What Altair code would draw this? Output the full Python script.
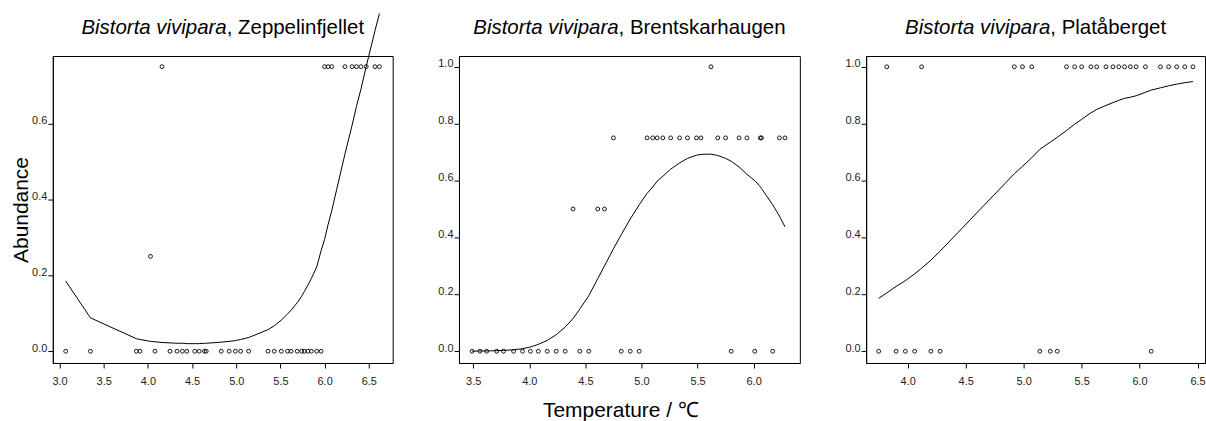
import altair as alt
import pandas as pd

# --- Zeppelinfjellet: temperature (°C), observed abundance, fitted abundance ---
zep_temp = [3.07, 3.35, 3.87, 3.91, 4.03, 4.08, 4.16, 4.25, 4.33, 4.39, 4.44, 4.53,
            4.58, 4.64, 4.66, 4.83, 4.92, 4.99, 5.05, 5.14, 5.36, 5.43, 5.51, 5.58,
            5.62, 5.69, 5.74, 5.77, 5.81, 5.85, 5.91, 5.96, 6.00, 6.04, 6.08, 6.23,
            6.31, 6.36, 6.41, 6.47, 6.57, 6.62]
zep_abund = [0, 0, 0, 0, 0.25, 0, 0.75, 0, 0, 0, 0, 0,
             0, 0, 0, 0, 0, 0, 0, 0, 0, 0, 0, 0,
             0, 0, 0, 0, 0, 0, 0, 0, 0.75, 0.75, 0.75, 0.75,
             0.75, 0.75, 0.75, 0.75, 0.75, 0.75]
zep_fit = [0.185, 0.088, 0.033, 0.031, 0.026, 0.025, 0.023, 0.022, 0.021, 0.021, 0.020, 0.020,
           0.020, 0.021, 0.021, 0.024, 0.026, 0.028, 0.031, 0.036, 0.057, 0.067, 0.082, 0.098,
           0.108, 0.128, 0.145, 0.157, 0.174, 0.192, 0.222, 0.265, 0.295, 0.335, 0.370, 0.520,
           0.595, 0.645, 0.690, 0.750, 0.845, 0.890]

# --- Brentskarhaugen ---
bre_temp = [3.49, 3.56, 3.62, 3.71, 3.77, 3.86, 3.94, 4.01, 4.08, 4.16, 4.24, 4.32,
            4.39, 4.45, 4.53, 4.61, 4.67, 4.75, 4.82, 4.90, 4.98, 5.05, 5.10, 5.14,
            5.19, 5.26, 5.34, 5.41, 5.49, 5.53, 5.62, 5.68, 5.75, 5.80, 5.87, 5.94,
            6.01, 6.06, 6.07, 6.17, 6.23, 6.28]
bre_abund = [0, 0, 0, 0, 0, 0, 0, 0, 0, 0, 0, 0,
             0.5, 0, 0, 0.5, 0.5, 0.75, 0, 0, 0, 0.75, 0.75, 0.75,
             0.75, 0.75, 0.75, 0.75, 0.75, 0.75, 1.0, 0.75, 0.75, 0, 0.75, 0.75,
             0, 0.75, 0.75, 0, 0.75, 0.75]
bre_fit = [0.000, 0.001, 0.001, 0.002, 0.003, 0.005, 0.009, 0.015, 0.024, 0.038, 0.058, 0.085,
           0.115, 0.148, 0.195, 0.255, 0.300, 0.360, 0.410, 0.465, 0.515, 0.555, 0.577, 0.598,
           0.615, 0.640, 0.662, 0.678, 0.689, 0.692, 0.693, 0.688, 0.678, 0.668, 0.648, 0.622,
           0.600, 0.578, 0.572, 0.515, 0.475, 0.437]

# --- Platåberget ---
pla_temp = [3.75, 3.82, 3.90, 3.98, 4.06, 4.12, 4.20, 4.28, 4.92, 4.99, 5.07, 5.14,
            5.23, 5.29, 5.37, 5.44, 5.50, 5.58, 5.63, 5.71, 5.77, 5.82, 5.87, 5.92,
            5.97, 6.05, 6.10, 6.18, 6.25, 6.32, 6.39, 6.46]
pla_abund = [0, 1, 0, 0, 0, 1, 0, 0, 1, 1, 1, 0,
             0, 0, 1, 1, 1, 1, 1, 1, 1, 1, 1, 1,
             1, 1, 0, 1, 1, 1, 1, 1]
pla_fit = [0.186, 0.205, 0.228, 0.248, 0.272, 0.292, 0.320, 0.352, 0.624, 0.650, 0.680, 0.710,
           0.735, 0.752, 0.776, 0.798, 0.815, 0.838, 0.850, 0.864, 0.874, 0.882, 0.889, 0.893,
           0.898, 0.910, 0.918, 0.926, 0.933, 0.939, 0.944, 0.948]

species = "Bistorta vivipara"
sites = ["Zeppelinfjellet", "Brentskarhaugen", "Platåberget"]

FONT = "Liberation Sans, Arial, Helvetica, sans-serif"
TITLE_SIZE = 20.5

# Arial/Helvetica advance widths (1/1000 em) for centring the two-part titles
ADV = {" ": 278, ",": 278, "B": 667, "P": 667, "Z": 611, "a": 556, "b": 556, "e": 556,
       "f": 278, "g": 556, "h": 556, "i": 222, "j": 222, "k": 500, "l": 222, "n": 556,
       "o": 556, "p": 556, "r": 333, "s": 500, "t": 278, "u": 556, "v": 500, "å": 556}


def text_width(s, size):
    return sum(ADV.get(c, 556) for c in s) * size / 1000.0


def panel(temp, abund, fit, site, width, xdom, ydom, xticks, yticks,
          xtitle=None, ytitle=None):
    df = pd.DataFrame({"temp": temp, "abund": abund, "fit": fit})
    height = 308

    xaxis_kw = dict(values=xticks, format=".1f", labelOverlap=False)
    if xtitle:
        xaxis_kw.update(title=xtitle, titleX=162, titleY=53.5, titleAlign="center",
                        titleBaseline="alphabetic", titleFontSize=21,
                        titleFontWeight="normal", titleFont=FONT, titleColor="black")
    else:
        xaxis_kw.update(title=None)
    yaxis_kw = dict(values=yticks, format=".1f", labelOverlap=False)
    if ytitle:
        yaxis_kw.update(title=ytitle, titleX=-25, titleY=height / 2, titleAngle=270,
                        titleAlign="center", titleBaseline="alphabetic",
                        titleFontSize=21, titleFontWeight="normal", titleFont=FONT,
                        titleColor="black")
    else:
        yaxis_kw.update(title=None)

    xenc = alt.X("temp:Q", scale=alt.Scale(domain=xdom, nice=False, zero=False),
                 axis=alt.Axis(**xaxis_kw))
    yscale = alt.Scale(domain=ydom, nice=False, zero=False)

    base = alt.Chart(df)
    line = base.mark_line(color="black", strokeWidth=1).encode(
        x=xenc, y=alt.Y("fit:Q", scale=yscale, axis=alt.Axis(**yaxis_kw)),
        order="temp:Q")
    pts = base.mark_point(shape="circle", filled=False, color="black", size=15,
                          strokeWidth=0.9, opacity=1).encode(
        x=xenc, y=alt.Y("abund:Q", scale=yscale, axis=alt.Axis(**yaxis_kw)))

    # title: italic species name followed by the upright site name, centred on the panel
    part1 = species
    part2 = ", " + site
    total = text_width(part1, TITLE_SIZE) + text_width(part2, TITLE_SIZE)
    split = width / 2 - total / 2 + text_width(part1, TITLE_SIZE)
    one = pd.DataFrame({"k": [0]})
    t1 = alt.Chart(one).mark_text(text=part1, align="right", baseline="alphabetic",
                                  fontStyle="italic", fontSize=TITLE_SIZE, font=FONT,
                                  color="black").encode(
        x=alt.value(split), y=alt.value(-22.5))
    t2 = alt.Chart(one).mark_text(text=part2, align="left", baseline="alphabetic",
                                  fontSize=TITLE_SIZE, font=FONT, color="black").encode(
        x=alt.value(split), y=alt.value(-22.5))

    return alt.layer(line, pts, t1, t2).properties(width=width, height=height)


p1 = panel(zep_temp, zep_abund, zep_fit, sites[0], 341, [2.9245, 6.77], [-0.031, 0.778],
           [3.0, 3.5, 4.0, 4.5, 5.0, 5.5, 6.0, 6.5], [0.0, 0.2, 0.4, 0.6],
           ytitle="Abundance")
p2 = panel(bre_temp, bre_abund, bre_fit, sites[1], 342, [3.373, 6.412], [-0.0413, 1.0378],
           [3.5, 4.0, 4.5, 5.0, 5.5, 6.0], [0.0, 0.2, 0.4, 0.6, 0.8, 1.0],
           xtitle="Temperature / \u2103")
p3 = panel(pla_temp, pla_abund, pla_fit, sites[2], 340, [3.6417, 6.564], [-0.0413, 1.0378],
           [4.0, 4.5, 5.0, 5.5, 6.0, 6.5], [0.0, 0.2, 0.4, 0.6, 0.8, 1.0])

chart = alt.hconcat(p1, p2, p3, spacing=66.5, bounds="flush").properties(
    padding={"left": 10, "top": 9.5, "right": 0, "bottom": 0},
    background="white",
).configure_view(
    stroke="black", strokeWidth=1
).configure_axis(
    grid=False, domainColor="black", domainWidth=1, tickColor="black", tickWidth=1,
    tickSize=5, labelFont=FONT, labelFontSize=11, labelColor="#222222",
).configure_axisX(
    labelPadding=8, labelBaseline="top", labelFlush=False,
).configure_axisY(
    labelPadding=1, labelBaseline="alphabetic", labelAlign="right",
)

chart.save("out.html", embed_options={"renderer": "svg", "actions": False})
